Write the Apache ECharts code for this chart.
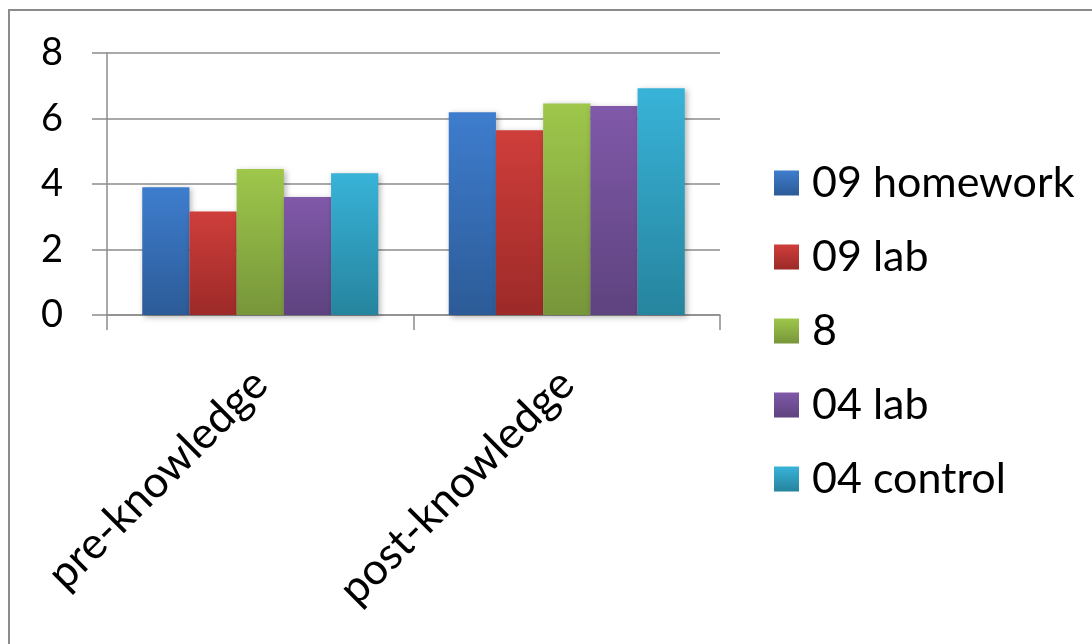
<!DOCTYPE html>
<html>
<head>
<meta charset="utf-8">
<script src="https://cdn.jsdelivr.net/npm/echarts@6/dist/echarts.min.js"></script>
<style>
  html, body { margin: 0; padding: 0; background: #fff; }
  #chart { width: 1092px; height: 644px; }
</style>
</head>
<body>
<div id="chart"></div>
<script>
const categories = ['pre-knowledge', 'post-knowledge'];
const seriesNames = ['09 homework', '09 lab', '8', '04 lab', '04 control'];
const homework09 = [3.9, 6.19];
const lab09 = [3.16, 5.64];
const group8 = [4.46, 6.46];
const lab04 = [3.6, 6.38];
const control04 = [4.33, 6.92];
const yTicks = [0, 2, 4, 6, 8];

const seriesData = [homework09, lab09, group8, lab04, control04];
const palette = [
    ['#3e7dce', '#2c5b97'],
    ['#cf3e3b', '#9c2a28'],
    ['#9ec74b', '#77963a'],
    ['#8059a9', '#5e437f'],
    ['#38b3d8', '#26849e'],
];
const font = 'Lato';

const grad = (c) => new echarts.graphic.LinearGradient(0, 0, 0, 1, [
    { offset: 0, color: c[0] },
    { offset: 1, color: c[1] },
]);

const chart = echarts.init(document.getElementById('chart'));
chart.setOption({
    backgroundColor: '#fff',
    animation: false,
    graphic: [{
        type: 'rect',
        shape: { x: 9, y: 10, width: 1300, height: 800 },
        style: { fill: 'none', stroke: '#8c8c8c', lineWidth: 2 },
        z: 0,
    }],
    grid: { left: 107, right: 372, top: 53, bottom: 329 },
    legend: {
        orient: 'vertical',
        left: 769,
        top: 156,
        itemWidth: 25,
        itemHeight: 25,
        itemGap: 30,
        icon: 'rect',
        textStyle: { fontFamily: font, fontSize: 43, lineHeight: 44, color: '#000', padding: [0, 0, 0, 8] },
        data: seriesNames,
    },
    xAxis: {
        type: 'category',
        data: categories,
        axisLine: { show: true, lineStyle: { color: '#8c8c8c', width: 1.5 } },
        axisTick: { show: true, length: 15, lineStyle: { color: '#8c8c8c', width: 1.5 } },
        axisLabel: { rotate: 45, margin: 62, fontFamily: font, fontSize: 44, color: '#000' },
    },
    yAxis: {
        type: 'value',
        min: yTicks[0],
        max: yTicks[yTicks.length - 1],
        interval: 2,
        axisLine: { show: true, lineStyle: { color: '#8c8c8c', width: 1.5 } },
        axisTick: { show: true, length: 15, lineStyle: { color: '#8c8c8c', width: 1.5 } },
        splitLine: { lineStyle: { color: '#8c8c8c', width: 1.5 } },
        axisLabel: { margin: 44, fontFamily: font, fontSize: 38, color: '#000' },
    },
    series: seriesNames.map((name, i) => ({
        name,
        type: 'bar',
        data: seriesData[i],
        barGap: 0,
        barCategoryGap: '23%',
        itemStyle: {
            color: grad(palette[i]),
            shadowBlur: 6,
            shadowOffsetX: 2,
            shadowOffsetY: 2,
            shadowColor: 'rgba(0,0,0,0.3)',
        },
    })),
});
</script>
</body>
</html>
